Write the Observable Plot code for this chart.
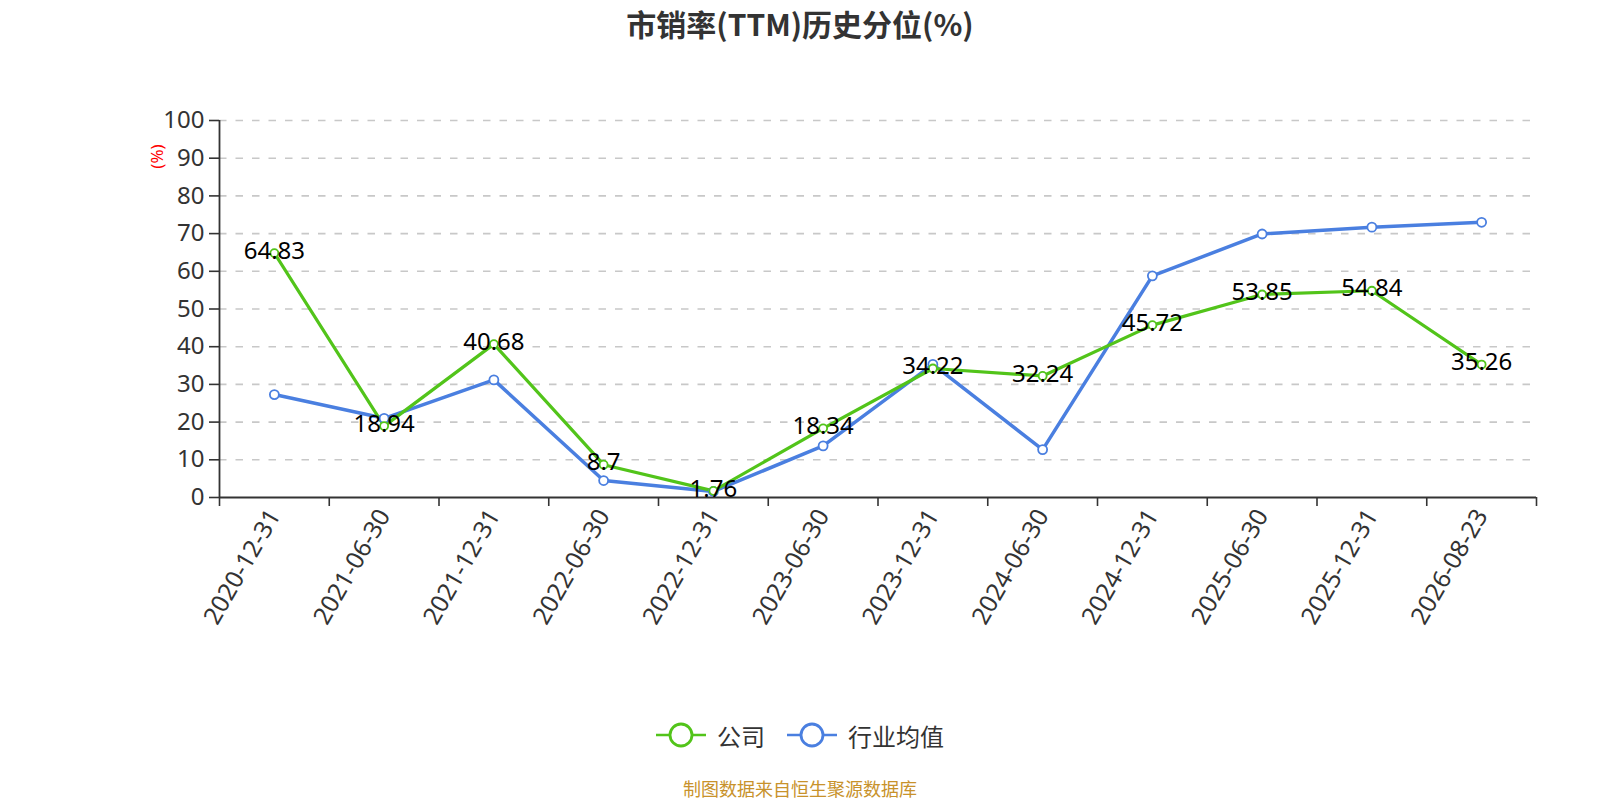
<!DOCTYPE html>
<html><head><meta charset="utf-8">
<script src="https://cdn.jsdelivr.net/npm/d3@7"></script>
<script src="https://cdn.jsdelivr.net/npm/@observablehq/plot@0.6"></script>
<style>
body{margin:0;background:#fff;font-family:"Noto Sans","Noto Sans CJK SC",sans-serif;}
#title{height:46px;line-height:46px;text-align:center;font-size:30px;font-weight:bold;color:#333;font-family:"Noto Sans CJK SC",sans-serif;}
#legend{height:50px;display:flex;justify-content:center;align-items:center;font-size:24px;color:#333;font-family:"Noto Sans CJK SC",sans-serif;}
#legend .item{display:flex;align-items:center;margin:0 11px;}
#legend svg{margin-right:11px;}
#caption{text-align:center;font-size:18px;line-height:22px;color:#c8922b;margin-top:17px;font-family:"Noto Sans CJK SC",sans-serif;}
</style></head>
<body>
<div id="title">市销率(TTM)历史分位(%)</div>
<div id="chart"></div>
<div id="legend"></div>
<div id="caption">制图数据来自恒生聚源数据库</div>
<script>
const dates = ["2020-12-31","2021-06-30","2021-12-31","2022-06-30","2022-12-31","2023-06-30","2023-12-31","2024-06-30","2024-12-31","2025-06-30","2025-12-31","2026-08-23"];
const company = [64.83,18.94,40.68,8.7,1.76,18.34,34.22,32.24,45.72,53.85,54.84,35.26];
const industry = [27.3,21.0,31.2,4.5,1.6,13.7,35.3,12.7,58.8,69.9,71.7,73.0];
const yTicks = [0,10,20,30,40,50,60,70,80,90,100];
const seriesNames = ["公司","行业均值"];
const colors = ["#52c41a","#4a7fe0"];

const idx = dates.map((d,i)=>i);
const bounds = d3.range(dates.length+1).map(i=>i-0.5);
const compData = idx.map(i=>({i, v:company[i]}));
const indData = idx.map(i=>({i, v:industry[i]}));

const chart = Plot.plot({
  width:1600, height:664,
  marginLeft:219, marginRight:64, marginTop:74, marginBottom:213,
  style:{fontFamily:'"Noto Sans","Noto Sans CJK SC",sans-serif', color:"#333", background:"#fff"},
  x:{type:"linear", domain:[-0.5, dates.length-0.5]},
  y:{domain:[0,100]},
  marks:[
    Plot.gridY(yTicks.filter(t=>t>0), {stroke:"#c8c8c8", strokeOpacity:1, strokeDasharray:"7.5,9", strokeWidth:1.6}),
    Plot.axisY(yTicks, {tickSize:10, fontSize:24, label:null, tickPadding:5, fill:"#333", stroke:"#333", strokeWidth:1.6}),
    Plot.axisX(bounds, {tickSize:9, tickFormat:()=>"", label:null, stroke:"#333", strokeWidth:1.6}),
    Plot.axisX(idx, {tickSize:0, tickRotate:-60, tickPadding:14, fontSize:24.5, tickFormat:i=>dates[i], label:null, fill:"#333"}),
    Plot.ruleX([-0.5], {stroke:"#333", strokeWidth:1.8}),
    Plot.ruleY([0], {stroke:"#333", strokeWidth:1.8}),
    Plot.text(["(%)"], {frameAnchor:"top-left", textAnchor:"middle", lineAnchor:"middle", dx:-62, dy:36, rotate:-90, fill:"red", fontSize:17}),
    Plot.line(indData, {x:"i", y:"v", stroke:colors[1], strokeWidth:3.5}),
    Plot.line(compData, {x:"i", y:"v", stroke:colors[0], strokeWidth:3.2}),
    Plot.dot(indData, {x:"i", y:"v", r:4.5, fill:"#fff", stroke:colors[1], strokeWidth:1.8}),
    Plot.dot(compData, {x:"i", y:"v", r:4, fill:"#fff", stroke:colors[0], strokeWidth:1.8}),
    Plot.text(compData, {x:"i", y:"v", text:d=>String(d.v), fontSize:24, fill:"#000", dy:-2})
  ]
});
document.getElementById("chart").appendChild(chart);

const legend = document.getElementById("legend");
seriesNames.forEach((name,k)=>{
  const item = document.createElement("div");
  item.className="item";
  item.innerHTML = `<svg width="50" height="28"><line x1="0" y1="14" x2="50" y2="14" stroke="${colors[k]}" stroke-width="2.5"/><circle cx="25" cy="14" r="11" fill="#fff" stroke="${colors[k]}" stroke-width="2.8"/></svg><span>${name}</span>`;
  legend.appendChild(item);
});
</script>
</body></html>
